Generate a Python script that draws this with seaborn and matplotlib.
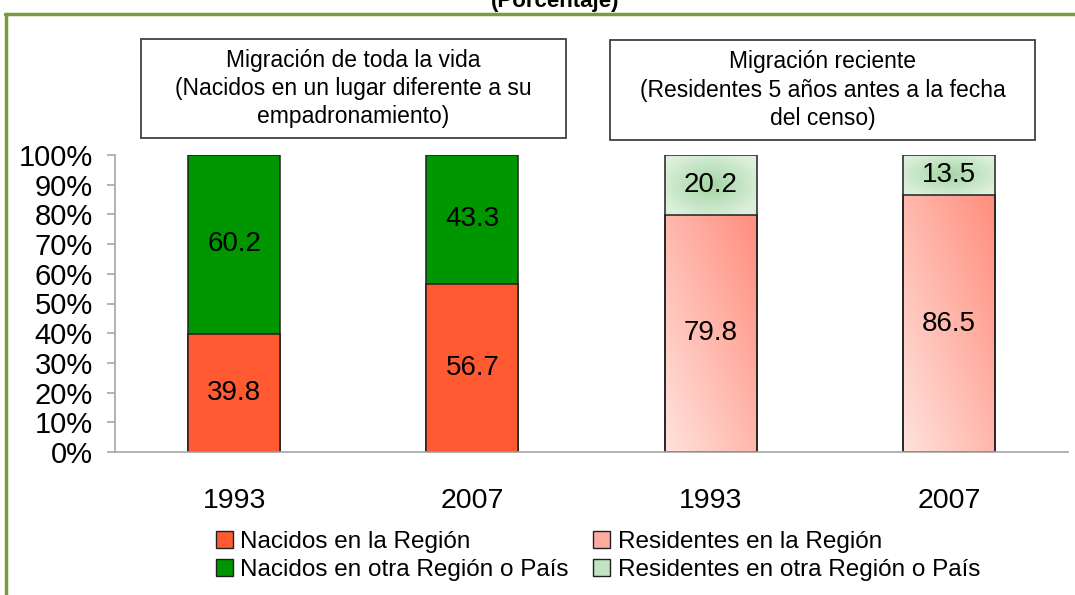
import matplotlib
matplotlib.use("Agg")
import numpy as np
import pandas as pd
import matplotlib.pyplot as plt
import seaborn as sns
from matplotlib.patches import Rectangle, Patch
from matplotlib.lines import Line2D

## Data
grupos = ["vida_1993", "vida_2007", "reciente_1993", "reciente_2007"]
anios = ["1993", "2007", "1993", "2007"]
en_region = [39.8, 56.7, 79.8, 86.5]
otra_region = [60.2, 43.3, 20.2, 13.5]
series = ["Nacidos en la Región", "Nacidos en otra Región o País",
          "Residentes en la Región", "Residentes en otra Región o País"]
titulo = "(Porcentaje)"
caja_vida = "Migración de toda la vida\n(Nacidos en un lugar diferente a su\nempadronamiento)"
caja_reciente = "Migración reciente\n(Residentes 5 años antes a la fecha\ndel censo)"

## Colours
naranja = "#FF5A32"
verde = "#009600"
rosa = "#FFAA9E"
verde_claro = "#C2E3C2"
color_abajo = [naranja, naranja, rosa, rosa]
color_arriba = [verde, verde, verde_claro, verde_claro]
gris = "#A6A6A6"
oliva = "#7A9A3F"

sns.set_style("white")
plt.rcParams["font.family"] = ["Liberation Sans", "DejaVu Sans"]
plt.rcParams["text.color"] = "black"
plt.rcParams["xtick.color"] = "black"
plt.rcParams["ytick.color"] = "black"

df = pd.DataFrame({"grupo": grupos, "abajo": en_region, "arriba": otra_region})
df["total"] = df["abajo"] + df["arriba"]

fig = plt.figure(figsize=(10.75, 5.95), dpi=100)
ax = fig.add_axes([115 / 1075, 1 - 452 / 595, (1068 - 115) / 1075, (452 - 155) / 595])

# stacked: full bar in top colour, then bottom segment over it
sns.barplot(data=df, x="grupo", y="total", hue="grupo", order=grupos, hue_order=grupos,
            palette=dict(zip(grupos, color_arriba)), saturation=1, width=0.386,
            edgecolor="#202020", linewidth=1.1, legend=False, ax=ax)
sns.barplot(data=df, x="grupo", y="abajo", hue="grupo", order=grupos, hue_order=grupos,
            palette=dict(zip(grupos, color_abajo)), saturation=1, width=0.386,
            edgecolor="#202020", linewidth=1.1, legend=False, ax=ax)

# soft gradients on the "reciente" bars
def hexrgb(h):
    return np.array([int(h[i:i + 2], 16) for i in (1, 3, 5)]) / 255.0

yy, xx = np.mgrid[0:1:80j, 0:1:40j]
for i in (2, 3):
    p = ax.patches[i + 4]
    x0, w = p.get_x(), p.get_width()
    t = np.clip((xx + yy) / 2, 0, 1)[..., None]
    img = hexrgb("#FFE2DC") * (1 - t) + hexrgb("#FF8E7E") * t
    ax.imshow(img, extent=(x0, x0 + w, 0, en_region[i]), origin="lower",
              aspect="auto", zorder=0.8, interpolation="bilinear")
    p.set_facecolor("none")
    r = np.sqrt(((xx - 0.5) / 0.5) ** 2 + ((yy - 0.5) / 0.5) ** 2)
    t = np.clip(r / 1.2, 0, 1)[..., None]
    img = hexrgb("#A4D5A4") * (1 - t) + hexrgb("#DDF0DD") * t
    ax.imshow(img, extent=(x0, x0 + w, en_region[i], 100), origin="lower",
              aspect="auto", zorder=0.8, interpolation="bilinear")
    ax.patches[i].set_facecolor("none")

for i in range(len(grupos)):
    ax.text(i, en_region[i] / 2, f"{en_region[i]:.1f}", ha="center", va="center", fontsize=20)
    ax.text(i, en_region[i] + otra_region[i] / 2, f"{otra_region[i]:.1f}",
            ha="center", va="center", fontsize=20)

ax.set_xlim(-0.5, 3.5)
ax.set_ylim(0, 100)
ax.set_xticks(range(4))
ax.set_xticklabels(anios, fontsize=20.5)
ax.set_xticks(np.arange(-0.5, 4, 1), minor=True)
ax.tick_params(axis="x", which="major", length=0, pad=26)
ax.tick_params(axis="x", which="minor", length=7, color=gris, width=1.2, direction="out")
ax.set_yticks(range(0, 101, 10))
ax.set_yticklabels([f"{v}%" for v in range(0, 101, 10)], fontsize=21)
ax.tick_params(axis="y", length=6, color=gris, width=1.2, direction="out", pad=10, left=True)
ax.set_xlabel("")
ax.set_ylabel("")
for s in ["top", "right"]:
    ax.spines[s].set_visible(False)
for s in ["left", "bottom"]:
    ax.spines[s].set_color(gris)
    ax.spines[s].set_linewidth(1.2)

# group boxes
for (x0, x1, y0, y1), txt in [((141, 566, 39, 138), caja_vida),
                              ((610, 1035, 40, 140), caja_reciente)]:
    fig.add_artist(Rectangle((x0 / 1075, 1 - y1 / 595), (x1 - x0) / 1075, (y1 - y0) / 595,
                             transform=fig.transFigure, facecolor="white",
                             edgecolor="#404040", linewidth=1.3))
    fig.text((x0 + x1) / 2 / 1075, 1 - (y0 + y1) / 2 / 595, txt, ha="center", va="center",
             fontsize=16.5, linespacing=1.28)

# legend
handles = [Patch(facecolor=c, edgecolor="#202020", linewidth=1.0)
           for c in [naranja, verde, rosa, verde_claro]]
fig.legend(handles, series, loc="center", bbox_to_anchor=(598 / 1075, 1 - 556 / 595),
           ncol=2, frameon=False, fontsize=17.5, handlelength=0.7, handleheight=0.7,
           handletextpad=0.3, columnspacing=1.0, labelspacing=0.28, borderpad=0)

# cut-off title and olive frame
fig.text(555 / 1075, 1 - 7 / 595, titulo, ha="center", va="baseline", fontsize=16,
         fontweight="bold")
fig.add_artist(Line2D([5 / 1075, 1], [1 - 14 / 595, 1 - 14 / 595], transform=fig.transFigure,
                      color=oliva, linewidth=2.5))
fig.add_artist(Line2D([6 / 1075, 6 / 1075], [0, 1 - 14 / 595], transform=fig.transFigure,
                      color=oliva, linewidth=2.5))

fig.savefig("out.png", dpi=100)
